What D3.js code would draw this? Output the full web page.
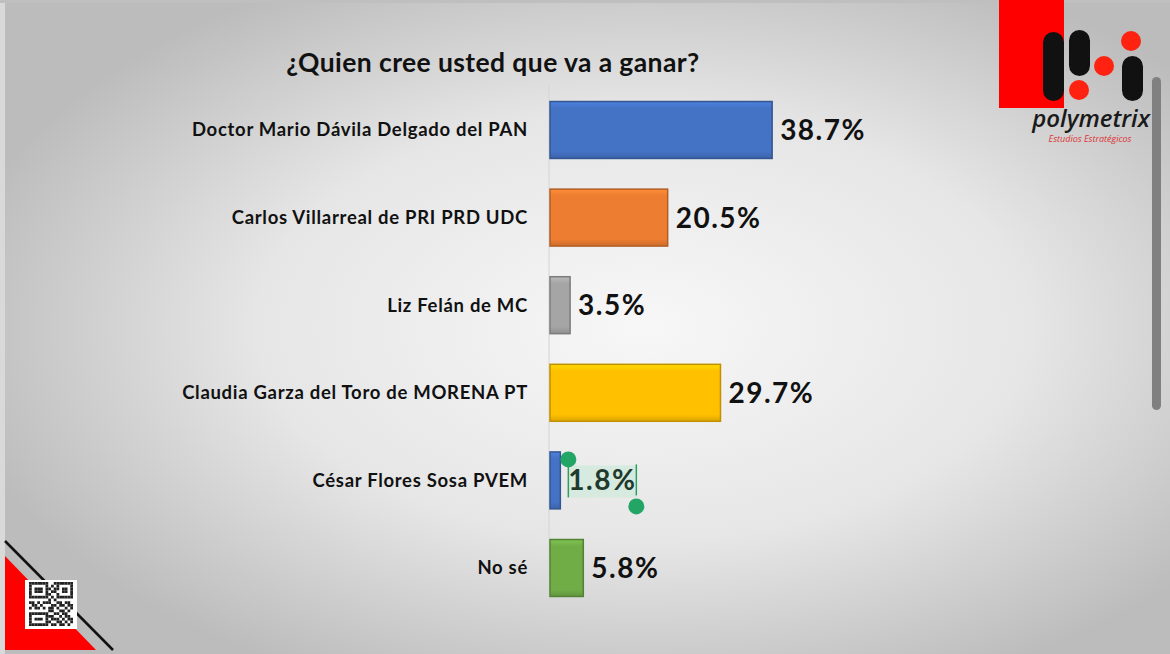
<!DOCTYPE html>
<html>
<head>
<meta charset="utf-8">
<script src="https://cdn.jsdelivr.net/npm/d3@7"></script>
<style>
  body { margin: 0; background: #fff; }
  svg { display: block; }
</style>
</head>
<body>
<div id="chart"></div>
<script>
const width = 1170
const height = 654

const title = '¿Quien cree usted que va a ganar?'
const categories = [
    'Doctor Mario Dávila Delgado del PAN',
    'Carlos Villarreal de PRI PRD UDC',
    'Liz Felán de MC',
    'Claudia Garza del Toro de MORENA PT',
    'César Flores Sosa PVEM',
    'No sé'
]
const values = [38.7, 20.5, 3.5, 29.7, 1.8, 5.8]
const colors = ['#4472c4', '#ed7d31', '#a5a5a5', '#ffc000', '#4472c4', '#70ad47']

const svg = d3.select('#chart')
    .append('svg')
    .attr('width', width)
    .attr('height', height)

const defs = svg.append('defs')

// background slide
const bg = defs.append('radialGradient')
    .attr('id', 'bg')
    .attr('cx', 0.55).attr('cy', 0.5).attr('r', 0.6)
bg.append('stop').attr('offset', '0%').attr('stop-color', '#f7f7f7')
bg.append('stop').attr('offset', '55%').attr('stop-color', '#e6e6e6')
bg.append('stop').attr('offset', '100%').attr('stop-color', '#bcbcbc')

svg.append('rect')
    .attr('width', width).attr('height', height)
    .attr('fill', 'url(#bg)')

// thin frame at the left / top edges
svg.append('rect').attr('x', 0).attr('y', 0).attr('width', 5).attr('height', height).attr('fill', '#d9d9d9')
svg.append('rect').attr('x', 0).attr('y', 0).attr('width', width).attr('height', 3).attr('fill', '#bfbfbf')

// bar gradients (bevel look)
colors.forEach(function(c, i) {
    const g = defs.append('linearGradient')
        .attr('id', 'bar' + i)
        .attr('x1', 0).attr('y1', 0).attr('x2', 0).attr('y2', 1)
    g.append('stop').attr('offset', '0%').attr('stop-color', d3.color(c).brighter(0.35))
    g.append('stop').attr('offset', '12%').attr('stop-color', c)
    g.append('stop').attr('offset', '88%').attr('stop-color', c)
    g.append('stop').attr('offset', '100%').attr('stop-color', d3.color(c).darker(0.4))
})

const x0 = 550
const xScale = d3.scaleLinear()
    .domain([0, 40])
    .range([x0, x0 + 229.6])

const yScale = d3.scaleBand()
    .domain(categories)
    .range([86.2, 611.8])
    .paddingInner(0.35)
    .paddingOuter(0.175)

// title
svg.append('text')
    .attr('x', 493)
    .attr('y', 72)
    .attr('text-anchor', 'middle')
    .style('font-family', 'Lato, "Open Sans", sans-serif')
    .style('font-weight', 700)
    .style('font-size', '26.5px')
    .style('letter-spacing', '0.4px')
    .attr('fill', '#111')
    .text(title)

// vertical axis line
svg.append('line')
    .attr('x1', x0 - 1).attr('x2', x0 - 1)
    .attr('y1', 86).attr('y2', 598)
    .attr('stroke', '#d4d4d4')
    .attr('stroke-width', 1)

const data = categories.map((c, i) => ({cat: c, value: values[i], i: i}))

svg.selectAll('rect.bar')
    .data(data)
    .enter()
    .append('rect')
    .attr('class', 'bar')
    .attr('x', xScale(0))
    .attr('y', d => yScale(d.cat))
    .attr('width', d => xScale(d.value) - xScale(0))
    .attr('height', yScale.bandwidth())
    .attr('fill', d => 'url(#bar' + d.i + ')')
    .attr('stroke', d => d3.color(colors[d.i]).darker(0.8))
    .attr('stroke-width', 1.5)

// category labels
svg.selectAll('text.cat')
    .data(data)
    .enter()
    .append('text')
    .attr('class', 'cat')
    .attr('x', 528)
    .attr('y', d => yScale(d.cat) + yScale.bandwidth() / 2)
    .attr('dy', '0.35em')
    .attr('text-anchor', 'end')
    .style('font-family', 'Lato, "Open Sans", sans-serif')
    .style('font-weight', 700)
    .style('font-size', '18.5px')
    .style('letter-spacing', '0.7px')
    .attr('fill', '#111')
    .text(d => d.cat)

// selection artefact around 1.8% label
const sel = data[4]
const selY = yScale(sel.cat) + yScale.bandwidth() / 2
svg.append('rect')
    .attr('x', xScale(sel.value) + 8).attr('y', selY - 15)
    .attr('width', 68).attr('height', 32)
    .attr('fill', '#cfe9dc').attr('opacity', 0.7)
svg.append('line')
    .attr('x1', xScale(sel.value) + 8).attr('x2', xScale(sel.value) + 8)
    .attr('y1', selY - 14).attr('y2', selY + 17)
    .attr('stroke', '#2e9e63').attr('stroke-width', 1.5)
svg.append('line')
    .attr('x1', xScale(sel.value) + 76).attr('x2', xScale(sel.value) + 76)
    .attr('y1', selY - 16).attr('y2', selY + 15)
    .attr('stroke', '#2e9e63').attr('stroke-width', 1.5)

// value labels
svg.selectAll('text.val')
    .data(data)
    .enter()
    .append('text')
    .attr('class', 'val')
    .attr('x', d => xScale(d.value) + 8)
    .attr('y', d => yScale(d.cat) + yScale.bandwidth() / 2)
    .attr('dy', '0.36em')
    .style('font-family', 'Lato, "Open Sans", sans-serif')
    .style('font-weight', 700)
    .style('font-size', '28px')
    .style('letter-spacing', '1.5px')
    .attr('fill', d => d.i === 4 ? '#1f3a2c' : '#111')
    .text(d => d.value.toFixed(1) + '%')

svg.append('circle')
    .attr('cx', xScale(sel.value) + 8).attr('cy', selY - 21).attr('r', 8)
    .attr('fill', '#22a565')
svg.append('circle')
    .attr('cx', xScale(sel.value) + 76).attr('cy', selY + 26).attr('r', 8)
    .attr('fill', '#22a565')

// polymetrix logo
const logo = svg.append('g')
logo.append('rect').attr('x', 999).attr('y', 0).attr('width', 65).attr('height', 108).attr('fill', '#f00')
logo.append('rect').attr('x', 1043).attr('y', 32).attr('width', 21).attr('height', 69).attr('rx', 10.5).attr('fill', '#111')
logo.append('rect').attr('x', 1069).attr('y', 30).attr('width', 21).attr('height', 46).attr('rx', 10.5).attr('fill', '#111')
logo.append('rect').attr('x', 1122).attr('y', 56).attr('width', 21).attr('height', 45).attr('rx', 10.5).attr('fill', '#111')
logo.append('circle').attr('cx', 1079).attr('cy', 90).attr('r', 10).attr('fill', '#f21')
logo.append('circle').attr('cx', 1104).attr('cy', 66).attr('r', 10).attr('fill', '#f21')
logo.append('circle').attr('cx', 1131).attr('cy', 41).attr('r', 10).attr('fill', '#f21')
logo.append('text')
    .attr('x', 1091).attr('y', 127)
    .attr('text-anchor', 'middle')
    .style('font-family', '"Open Sans", sans-serif')
    .style('font-style', 'italic')
    .style('font-weight', 600)
    .style('font-size', '24px')
    .attr('fill', '#1a1a1a')
    .text('polymetrix')
logo.append('text')
    .attr('x', 1090).attr('y', 142)
    .attr('text-anchor', 'middle')
    .style('font-family', '"Open Sans", sans-serif')
    .style('font-style', 'italic')
    .style('font-size', '9px')
    .attr('fill', '#d33')
    .text('Estudios Estratégicos')

// scrollbar
svg.append('rect')
    .attr('x', 1152).attr('y', 77).attr('width', 9).attr('height', 333).attr('rx', 4.5)
    .attr('fill', '#808080')

// bottom-left corner decoration
const corner = svg.append('g')
corner.append('path').attr('d', 'M5,556 L5,650 L96,650 Z').attr('fill', '#f00')
corner.append('line')
    .attr('x1', 5).attr('y1', 541).attr('x2', 113).attr('y2', 650)
    .attr('stroke', '#111').attr('stroke-width', 2.5)
corner.append('rect').attr('x', 25).attr('y', 580).attr('width', 52).attr('height', 49).attr('fill', '#fff')
const qr = [
    '1111111001111111',
    '1000001010100001',
    '1011101101101101',
    '1011101011001101',
    '1000001100100001',
    '1111111010111111',
    '0000000101000000',
    '1101011100110110',
    '0110100011011011',
    '1011010110100101',
    '0000000110011010',
    '1111111001101100',
    '1000001110010110',
    '1011101011101011',
    '1000001100110101',
    '1111111011011010'
]
qr.forEach(function(row, r) {
    row.split('').forEach(function(b, c) {
        if (b === '1') {
            corner.append('rect')
                .attr('x', 29 + c * 2.75).attr('y', 582 + r * 2.75)
                .attr('width', 2.75).attr('height', 2.75)
                .attr('fill', '#222')
        }
    })
})
</script>
</body>
</html>
